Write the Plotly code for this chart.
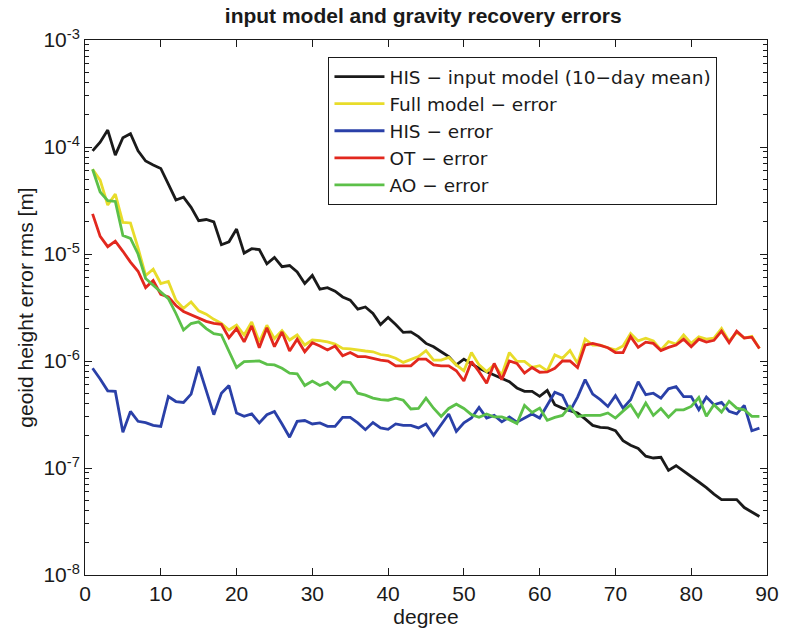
import plotly.graph_objects as go

degree = list(range(1, 90))

his_input = [
    9.2e-5, 1.11e-4, 1.44e-4, 8.4e-5, 1.22e-4, 1.33e-4, 9.2e-5, 7.4e-5, 6.8e-5, 6.3e-5,
    4.5e-5, 3.2e-5, 3.4e-5, 2.73e-5, 2.05e-5, 2.1e-5, 2.0e-5, 1.22e-5, 1.3e-5, 1.71e-5,
    1.02e-5, 1.12e-5, 1.1e-5, 8.1e-6, 9.3e-6, 7.6e-6, 7.8e-6, 6.8e-6, 5.3e-6, 6.3e-6,
    4.7e-6, 4.85e-6, 4.5e-6, 3.97e-6, 3.7e-6, 3.05e-6, 3.2e-6, 2.78e-6, 2.19e-6, 2.55e-6,
    2.19e-6, 1.85e-6, 1.87e-6, 1.69e-6, 1.46e-6, 1.36e-6, 1.22e-6, 1.1e-6, 9.2e-7, 1.04e-6,
    9.4e-7, 8.55e-7, 7.95e-7, 7.4e-7, 6.9e-7, 6.4e-7, 5.6e-7, 5.2e-7, 5.2e-7, 4.67e-7,
    5.3e-7, 3.9e-7, 3.63e-7, 3.43e-7, 3.26e-7, 2.88e-7, 2.5e-7, 2.4e-7, 2.37e-7, 2.23e-7,
    1.8e-7, 1.63e-7, 1.52e-7, 1.29e-7, 1.24e-7, 1.26e-7, 9.5e-8, 1.05e-7, 9.4e-8, 8.4e-8,
    7.4e-8, 6.55e-8, 5.7e-8, 5.07e-8, 5.07e-8, 5.07e-8, 4.27e-8, 3.9e-8, 3.52e-8,
]

full_err = [
    6.2e-5, 4.9e-5, 2.87e-5, 3.63e-5, 1.97e-5, 1.95e-5, 1.14e-5, 6.3e-6, 7.2e-6, 5.3e-6,
    5.55e-6, 3.7e-6, 3.1e-6, 3.56e-6, 2.94e-6, 2.74e-6, 2.45e-6, 2.25e-6, 1.95e-6, 2.16e-6,
    1.75e-6, 2.32e-6, 1.51e-6, 2.16e-6, 1.62e-6, 1.92e-6, 1.57e-6, 1.75e-6, 1.41e-6, 1.57e-6,
    1.55e-6, 1.51e-6, 1.44e-6, 1.31e-6, 1.3e-6, 1.26e-6, 1.24e-6, 1.22e-6, 1.15e-6, 1.12e-6,
    1.06e-6, 9.7e-7, 1.04e-6, 1.1e-6, 1.25e-6, 1.02e-6, 1.02e-6, 1.08e-6, 9.2e-7, 8.1e-7,
    1.2e-6, 9.2e-7, 7.95e-7, 9.2e-7, 7.4e-7, 1.2e-6, 9.9e-7, 9.9e-7, 8.7e-7, 9.05e-7,
    8.1e-7, 1.14e-6, 1.06e-6, 1.25e-6, 9.5e-7, 1.6e-6, 1.41e-6, 1.41e-6, 1.33e-6, 1.27e-6,
    1.38e-6, 1.81e-6, 1.54e-6, 1.63e-6, 1.54e-6, 1.27e-6, 1.52e-6, 1.44e-6, 1.75e-6, 1.46e-6,
    1.68e-6, 1.6e-6, 1.64e-6, 2.01e-6, 1.53e-6, 1.85e-6, 1.64e-6, 1.7e-6, 1.31e-6,
]

his_err = [
    8.55e-7, 6.8e-7, 5.26e-7, 5.2e-7, 2.16e-7, 3.38e-7, 2.73e-7, 2.65e-7, 2.5e-7, 2.45e-7,
    4.66e-7, 4.18e-7, 4.1e-7, 4.9e-7, 8.85e-7, 5.2e-7, 3.15e-7, 5.0e-7, 5.9e-7, 3.26e-7,
    3.04e-7, 3.2e-7, 2.64e-7, 3.15e-7, 3.38e-7, 2.58e-7, 1.94e-7, 2.73e-7, 2.78e-7, 2.58e-7,
    2.64e-7, 2.45e-7, 2.45e-7, 2.97e-7, 2.97e-7, 2.64e-7, 2.28e-7, 2.66e-7, 2.37e-7, 2.3e-7,
    2.58e-7, 2.5e-7, 2.5e-7, 2.37e-7, 2.58e-7, 2.02e-7, 2.53e-7, 3.2e-7, 2.2e-7, 2.65e-7,
    2.93e-7, 3.68e-7, 2.93e-7, 3.1e-7, 2.7e-7, 3.0e-7, 2.68e-7, 2.93e-7, 3.2e-7, 2.93e-7,
    3.9e-7, 5.1e-7, 4.77e-7, 3.4e-7, 4.6e-7, 6.7e-7, 4.9e-7, 4.35e-7, 3.76e-7, 4.75e-7,
    3.62e-7, 4.35e-7, 6.4e-7, 4.85e-7, 5.0e-7, 4.5e-7, 5.5e-7, 5.75e-7, 4.65e-7, 4.65e-7,
    3.5e-7, 4.6e-7, 3.9e-7, 4.1e-7, 3.38e-7, 3.2e-7, 3.85e-7, 2.23e-7, 2.36e-7,
]

ot_err = [
    2.37e-5, 1.46e-5, 1.17e-5, 1.32e-5, 1.06e-5, 8.4e-6, 6.9e-6, 4.85e-6, 5.65e-6, 4.2e-6,
    3.97e-6, 3.3e-6, 2.9e-6, 2.7e-6, 2.5e-6, 2.35e-6, 2.25e-6, 2.2e-6, 1.65e-6, 2.01e-6,
    1.51e-6, 2.13e-6, 1.33e-6, 2.04e-6, 1.36e-6, 1.87e-6, 1.24e-6, 1.6e-6, 1.22e-6, 1.48e-6,
    1.38e-6, 1.27e-6, 1.38e-6, 1.12e-6, 1.2e-6, 1.1e-6, 1.1e-6, 1.06e-6, 1.02e-6, 1.0e-6,
    9.0e-7, 9.0e-7, 9.0e-7, 1.04e-6, 1.04e-6, 9.2e-7, 9.0e-7, 9.0e-7, 8.1e-7, 6.5e-7,
    9.9e-7, 7.95e-7, 6.2e-7, 9.5e-7, 6.7e-7, 1.0e-6, 9.5e-7, 7.7e-7, 8.7e-7, 7.85e-7,
    7.9e-7, 8.55e-7, 1.0e-6, 1.0e-6, 8.7e-7, 1.41e-6, 1.46e-6, 1.4e-6, 1.33e-6, 1.2e-6,
    1.2e-6, 1.69e-6, 1.34e-6, 1.5e-6, 1.46e-6, 1.25e-6, 1.34e-6, 1.41e-6, 1.6e-6, 1.36e-6,
    1.6e-6, 1.5e-6, 1.56e-6, 1.9e-6, 1.48e-6, 1.9e-6, 1.64e-6, 1.67e-6, 1.31e-6,
]

ao_err = [
    6.2e-5, 3.8e-5, 3.15e-5, 3.1e-5, 1.49e-5, 1.4e-5, 1.0e-5, 5.9e-6, 5.1e-6, 4.4e-6,
    3.83e-6, 2.78e-6, 1.95e-6, 2.24e-6, 2.32e-6, 2.01e-6, 1.8e-6, 1.75e-6, 1.22e-6, 8.7e-7,
    9.87e-7, 9.87e-7, 1.0e-6, 9.3e-7, 9.2e-7, 8.55e-7, 7.7e-7, 7.6e-7, 5.9e-7, 6.5e-7,
    5.9e-7, 6.3e-7, 5.45e-7, 6.4e-7, 6.3e-7, 5.0e-7, 4.8e-7, 4.5e-7, 4.35e-7, 4.3e-7,
    4.5e-7, 4.3e-7, 3.56e-7, 3.6e-7, 4.5e-7, 3.62e-7, 3.03e-7, 3.6e-7, 3.95e-7, 3.6e-7,
    3.15e-7, 2.98e-7, 3.2e-7, 3.0e-7, 3.0e-7, 2.83e-7, 2.6e-7, 3.85e-7, 3.3e-7, 3.63e-7,
    2.79e-7, 2.97e-7, 3.1e-7, 3.76e-7, 3.03e-7, 3.1e-7, 3.1e-7, 3.1e-7, 3.27e-7, 2.93e-7,
    3.4e-7, 3.9e-7, 3.03e-7, 4.05e-7, 3.1e-7, 3.6e-7, 2.98e-7, 3.5e-7, 3.5e-7, 3.76e-7,
    4.56e-7, 3.04e-7, 3.9e-7, 3.33e-7, 4.2e-7, 3.63e-7, 3.5e-7, 3.04e-7, 3.04e-7,
]

series_names = [
    "HIS \u2212 input model (10\u2212day mean)",
    "Full model \u2212 error",
    "HIS \u2212 error",
    "OT \u2212 error",
    "AO \u2212 error",
]
series_values = [his_input, full_err, his_err, ot_err, ao_err]
series_colors = ["#1a1a1a", "#e8dc2a", "#2a40a8", "#e2281e", "#5cc049"]

y_tickvals = [1e-8, 1e-7, 1e-6, 1e-5, 1e-4, 1e-3]
y_ticktext = ["10<sup>-8</sup>", "10<sup>-7</sup>", "10<sup>-6</sup>",
              "10<sup>-5</sup>", "10<sup>-4</sup>", "10<sup>-3</sup>"]
y_minor_digits = [2, 3, 4, 5, 6, 7, 8, 9]
x_tickvals = [0, 10, 20, 30, 40, 50, 60, 70, 80, 90]

FONT = "Liberation Sans, Arial, Helvetica, sans-serif"
LEGEND_FONT = "DejaVu Sans, Liberation Sans, sans-serif"
FS = 21

y_minor_vals = [d * v for v in y_tickvals[:-1] for d in y_minor_digits]

fig = go.Figure()
for i in range(len(series_names)):
    fig.add_trace(go.Scatter(
        x=degree, y=series_values[i], mode="lines", name=series_names[i],
        line=dict(color=series_colors[i], width=2.8),
    ))

fig.update_layout(
    width=800, height=634,
    margin=dict(l=85, r=33, t=40, b=57),
    paper_bgcolor="white", plot_bgcolor="white",
    font=dict(family=FONT, size=FS, color="#1a1a1a"),
    title=dict(text="<b>input model and gravity recovery errors</b>",
               x=0.529, xanchor="center", y=0.975, yanchor="middle",
               font=dict(size=FS, family=FONT)),
    showlegend=True,
    legend=dict(x=0.357, y=0.968, xanchor="left", yanchor="top",
                bordercolor="#1a1a1a", borderwidth=1, bgcolor="white",
                font=dict(size=18.5, family=LEGEND_FONT), tracegroupgap=0,
                traceorder="normal", itemwidth=50),
)

fig.update_xaxes(
    range=[0, 90], tickvals=x_tickvals, ticks="inside", ticklen=7,
    tickcolor="#1a1a1a", showline=True, linecolor="#1a1a1a", linewidth=1,
    mirror="ticks", showgrid=False, zeroline=False,
    title=dict(text="degree", font=dict(size=FS, family=FONT), standoff=2),
    tickfont=dict(size=FS, family=FONT),
)
fig.update_yaxes(
    type="log", range=[-8, -3], tickvals=y_tickvals, ticktext=y_ticktext,
    ticks="inside", ticklen=7, tickcolor="#1a1a1a",
    minor=dict(ticks="inside", ticklen=4, tickmode="array", tickvals=y_minor_vals,
               tickcolor="#1a1a1a", showgrid=False),
    showline=True, linecolor="#1a1a1a", linewidth=1, mirror="ticks",
    showgrid=False, zeroline=False,
    title=dict(text="geoid height error rms [m]", font=dict(size=FS, family=FONT), standoff=4),
    tickfont=dict(size=FS, family=FONT),
)

fig.write_html("out.html")
